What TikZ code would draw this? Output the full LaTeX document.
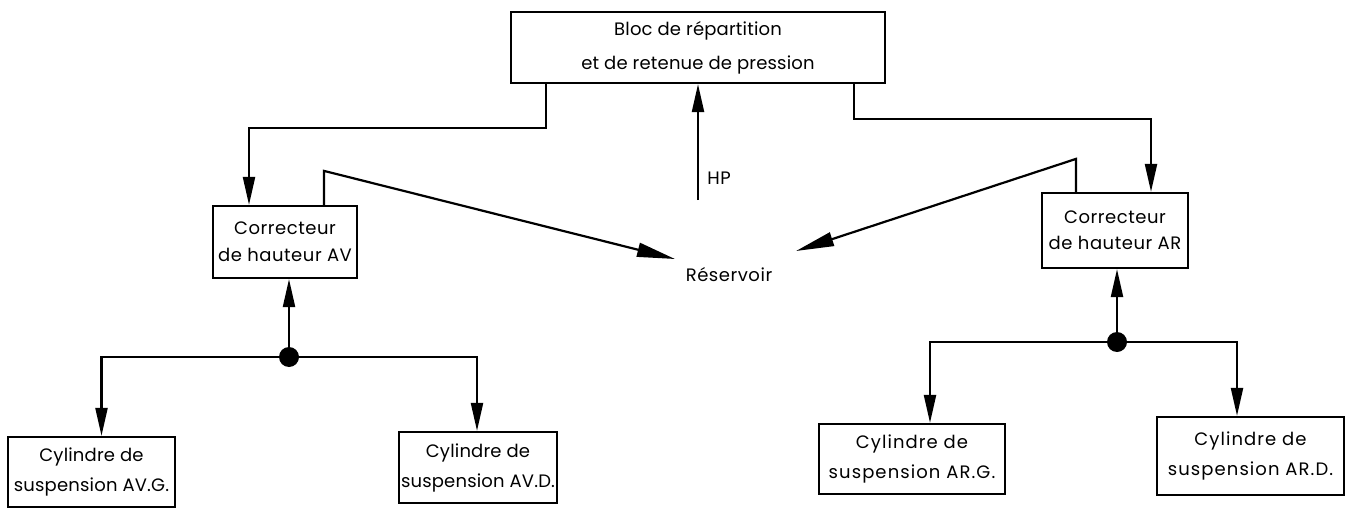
\documentclass[tikz,border=0pt]{standalone}
\usepackage{fontspec}
\setmainfont{Poppins}
\usetikzlibrary{arrows.meta}
\begin{document}
\begin{tikzpicture}[x=1pt,y=-1pt, line width=2.2pt,
  box/.style={draw, rectangle, inner sep=0pt, align=center},
  txt/.style={font=\fontsize{18}{30}\selectfont\addfontfeature{LetterSpace=6}},
  txtav/.style={font=\fontsize{18}{30}\selectfont\addfontfeature{LetterSpace=1}},
  arr/.style={-{Triangle[length=28pt,width=12pt]}},
  darr/.style={-{Triangle[length=38pt,width=14pt]}},
  dot/.style={circle, fill, inner sep=0pt, minimum size=20pt},
]
\useasboundingbox (0,0) rectangle (1354,508);
\node[box, font=\fontsize{18}{34}\selectfont\addfontfeature{LetterSpace=1}, minimum width=374pt, minimum height=71pt] (bloc) at (698,47.5) {Bloc de répartition\\et de retenue de pression};
\node[box, font=\fontsize{18}{27}\selectfont\addfontfeature{LetterSpace=3}, minimum width=144pt, minimum height=72pt] (corav) at (285,242) {Correcteur\\de hauteur AV};
\node[box, font=\fontsize{18}{26}\selectfont\addfontfeature{LetterSpace=3}, minimum width=146pt, minimum height=75pt] (corar) at (1115,230.5) {Correcteur\\de hauteur AR};
\node[box, txtav, minimum width=167pt, minimum height=70pt] (cavg) at (91.5,472) {Cylindre de\\suspension AV.G.};
\node[box, txtav, minimum width=158pt, minimum height=71pt] (cavd) at (478,467.5) {Cylindre de\\suspension AV.D.};
\node[box, txt, minimum width=186pt, minimum height=70pt] (carg) at (912,459) {Cylindre de\\suspension AR.G.};
\node[box, txt, minimum width=187pt, minimum height=78pt] (card) at (1250.5,456) {Cylindre de\\suspension AR.D.};
\node[font=\fontsize{18}{22}\selectfont\addfontfeature{LetterSpace=3}] (res) at (729,275) {Réservoir};
\node[font=\fontsize{18}{22}\selectfont\addfontfeature{LetterSpace=3}] (hp) at (719,178) {HP};
\coordinate (hp0) at (698,200);
\coordinate (rl) at (675,259);
\coordinate (rr) at (796,251);
\node[dot] (jav) at (289,357) {};
\node[dot] (jar) at (1117,342) {};

\draw[arr] (hp0) -- (bloc.south);
\draw[arr] ([xshift=36pt]bloc.south west) -- ++(0,44) -| ([xshift=-36pt]corav.north);
\draw[arr] ([xshift=-32pt]bloc.south east) -- ++(0,35) -| ([xshift=36pt]corar.north);
\draw[darr] ([xshift=39pt]corav.north) -- ++(0,-34) -- (rl);
\draw[darr] ([xshift=-39pt]corar.north) -- ++(0,-33) -- (rr);

\draw[arr] (jav.center) -- (jav |- corav.south);
\draw[arr] (jav.center) -| ([xshift=10pt]cavg.north);
\draw[arr] (jav.center) -| ([xshift=-1pt]cavd.north);
\draw[arr] (jar.center) -- (jar |- corar.south);
\draw[arr] (jar.center) -| ([xshift=18pt]carg.north);
\draw[arr] (jar.center) -| ([xshift=-13.5pt]card.north);
\end{tikzpicture}
\end{document}
